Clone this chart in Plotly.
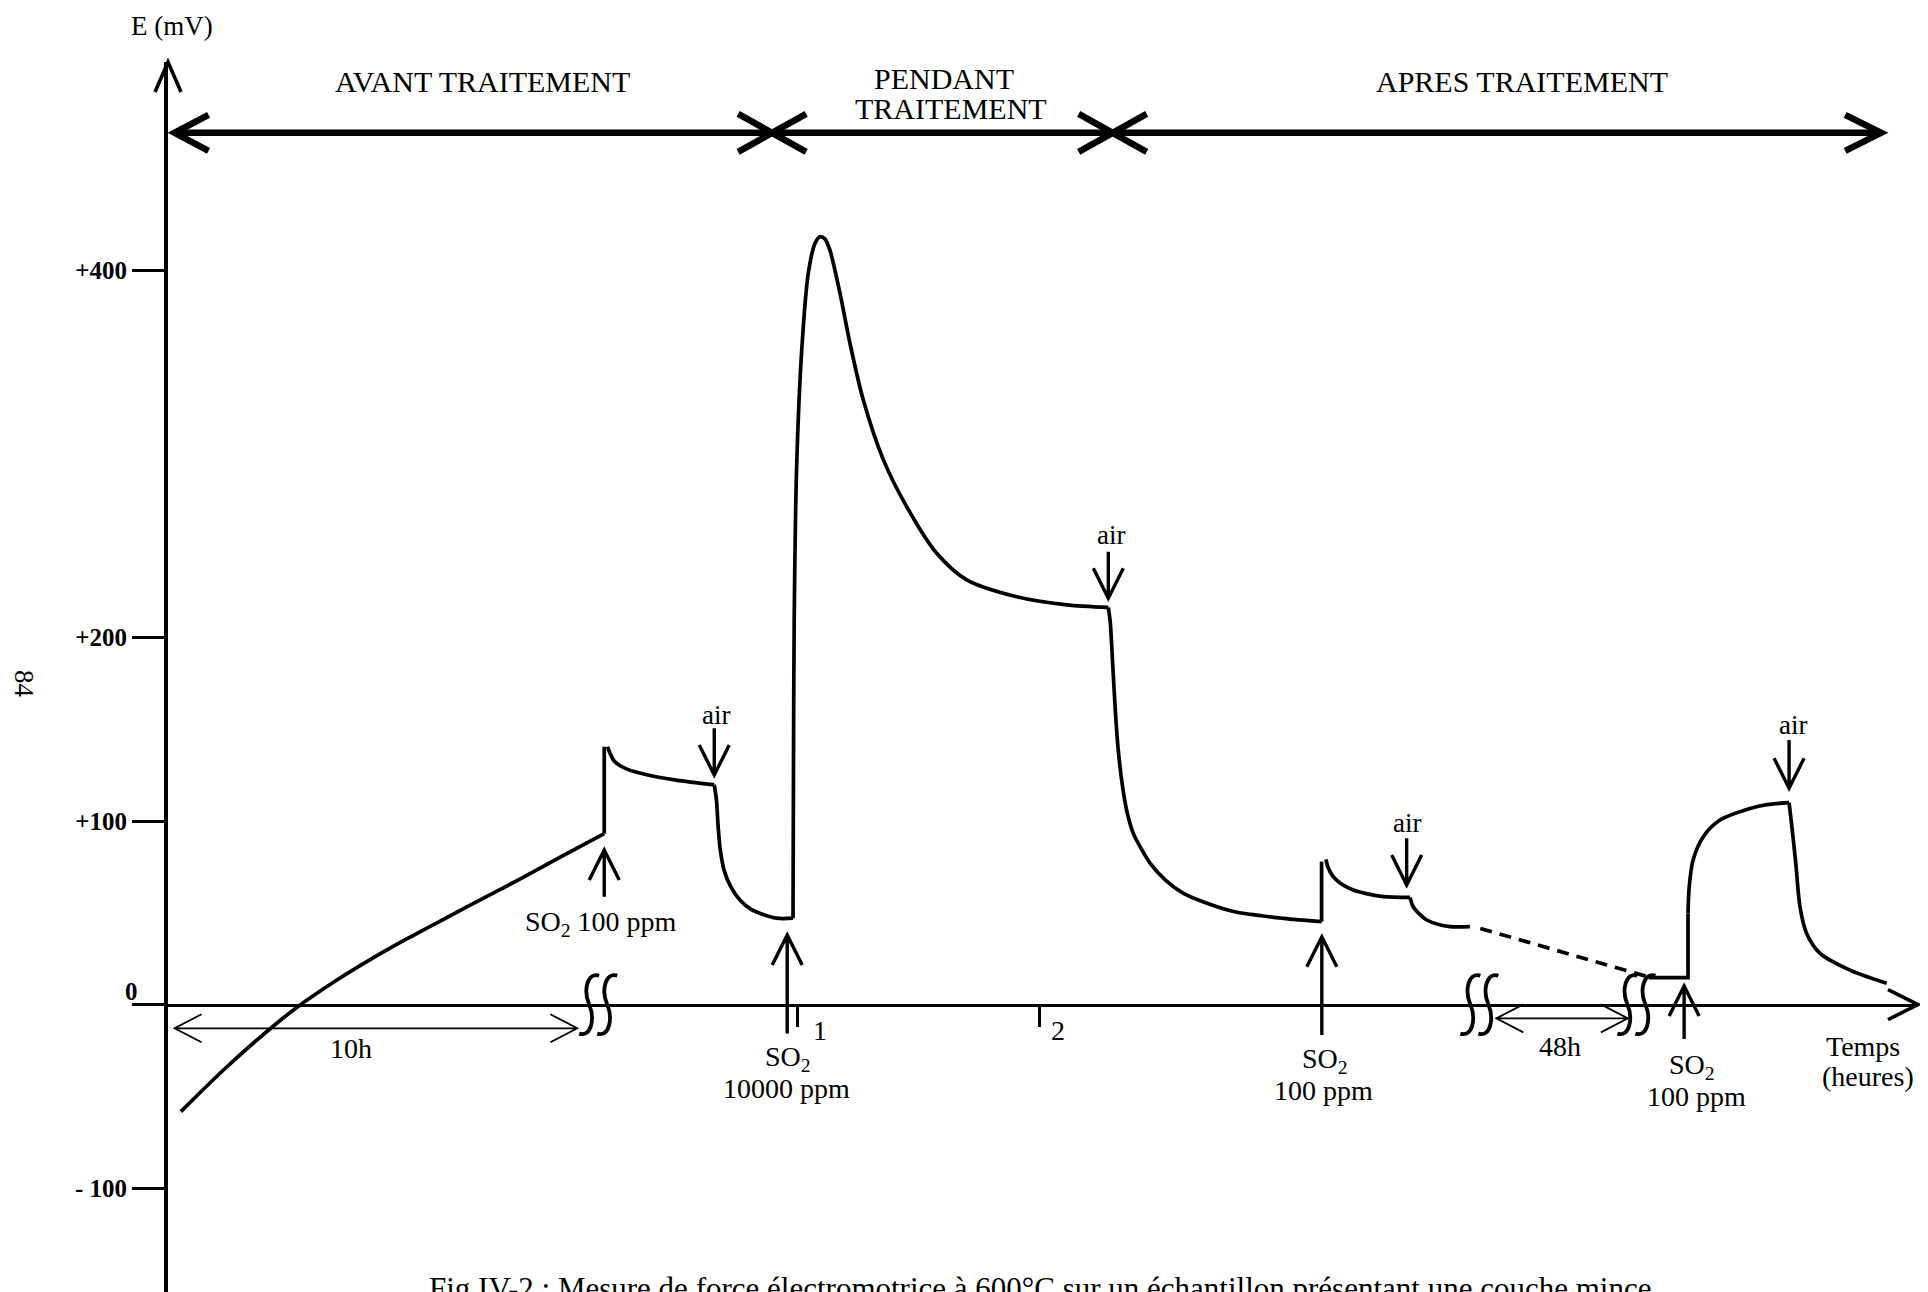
import plotly.graph_objects as go

# ---------------- data (time in hours, E in mV) ----------------
# before treatment: slow drift then SO2 100 ppm / air
ramp_t = [-1.545, -1.368, -1.185, -1.064, -0.901, -0.769, -0.617, -0.465, -0.302, -0.131, 0.032, 0.202]
ramp_mv = [-58.3, -35.5, -14.1, -1.3, 13.4, 24.1, 35.5, 46.2, 57.6, 69.4, 81.2, 93.1]
jump1_t = [0.202, 0.202]
jump1_mv = [93.1, 140.5]
so2a_t = [0.215, 0.245, 0.296, 0.382, 0.499, 0.656]
so2a_mv = [140.5, 132.4, 128.3, 125.1, 122.3, 119.7]
aira_t = [0.656, 0.665, 0.672, 0.681, 0.697, 0.724, 0.762, 0.810, 0.913, 0.981]
aira_mv = [119.7, 111.5, 97.2, 84.2, 73.0, 64.3, 57.0, 51.7, 47.1, 47.1]
# during treatment: SO2 10000 ppm
peak_t = [0.981, 0.983, 0.986, 0.996, 1.017, 1.044, 1.072, 1.092, 1.113, 1.133, 1.175,
          1.216, 1.271, 1.354, 1.450, 1.574, 1.698, 1.904, 2.110, 2.282]
peak_mv = [47.1, 132.0, 211.4, 293.1, 356.7, 398.5, 414.8, 418.4, 417.1, 411.2, 387.5,
           360.3, 329.4, 296.8, 271.3, 245.9, 231.4, 222.2, 217.8, 216.4]
airb_t = [2.282, 2.290, 2.300, 2.311, 2.323, 2.341, 2.361, 2.385, 2.417, 2.454, 2.519,
          2.592, 2.681, 2.798, 3.004, 3.162]
airb_mv = [216.4, 208.4, 185.6, 160.1, 138.7, 118.6, 103.9, 93.3, 85.1, 77.1, 67.7,
           60.6, 55.6, 50.7, 47.0, 45.2]
# after treatment
jump2_t = [3.162, 3.162]
jump2_mv = [45.2, 77.9]
so2c_t = [3.180, 3.188, 3.210, 3.244, 3.293, 3.351, 3.417, 3.527]
so2c_mv = [79.1, 75.0, 69.7, 65.7, 62.4, 60.3, 58.8, 58.4]
airc_t = [3.527, 3.540, 3.564, 3.596, 3.645, 3.692, 3.774]
airc_mv = [58.4, 53.3, 49.6, 46.1, 43.6, 42.5, 42.5]
gap_t = [3.817, 4.502]
gap_mv = [41.5, 15.4]
base_t = [4.512, 4.674, 4.674]
base_mv = [14.7, 14.7, 49.7]
rise_t = [4.674, 4.679, 4.695, 4.737, 4.806, 4.930, 5.000, 5.091]
rise_mv = [49.7, 64.3, 78.8, 91.5, 100.6, 106.9, 109.0, 110.0]
aird_t = [5.091, 5.100, 5.118, 5.136, 5.163, 5.219, 5.342, 5.494]
aird_mv = [110.0, 100.0, 78.0, 53.3, 38.9, 27.9, 18.8, 11.6]

# event arrows (gas changes)
event_t = [0.202, 0.656, 0.957, 2.282, 3.163, 3.513, 4.658, 5.091]
event_tip = [84.2, 125.1, 37.9, 221.4, 37.0, 65.2, 10.1, 117.9]
event_tail = [58.8, 150.6, -15.7, 246.8, -16.5, 90.7, -18.8, 144.2]

# ticks
ytick_vals = [-100, 0, 100, 200, 400]
ytick_text = ["- 100", "", "+100", "+200", "+400"]
zero_label = "0"
xtick_vals = [1, 2]

# phase bar
phase_t = [-1.571, 0.895, 2.300, 5.471]
phase_mv = 475.0
phase_labels = ["AVANT TRAITEMENT", "PENDANT", "TRAITEMENT", "APRES TRAITEMENT"]
phase_label_t = [-0.302, 1.604, 1.632, 3.990]
phase_label_mv = [502.9, 504.7, 488.4, 502.9]

# time-span arrows and axis breaks
span_t = [(-1.571, 0.091), (3.883, 4.426)]
span_mv = [-12.9, -7.5]
span_labels = ["10h", "48h"]
span_label_t = [-0.842, 4.147]
span_label_mv = [-23.9, -22.9]
break_t = [0.177, 3.813, 4.461]

# text labels: (text, t, mV)
labels = [
    ("air", 0.662, 157.8), ("air", 2.295, 255.9), ("air", 3.513, 98.8), ("air", 5.106, 152.4),
    ("SO<sub>2</sub> 100 ppm", 0.190, 44.4),
    ("SO<sub>2</sub>", 0.961, -29.3), ("10000 ppm", 0.955, -45.6),
    ("SO<sub>2</sub>", 3.176, -30.2), ("100 ppm", 3.168, -46.6),
    ("SO<sub>2</sub>", 4.692, -33.8), ("100 ppm", 4.709, -50.2),
    ("Temps", 5.394, -22.9), ("(heures)", 5.418, -39.3),
    ("1", 1.093, -13.9), ("2", 2.076, -13.9),
]

# ---------------- geometry (page has an 8px body margin) ----------------
W, H = 1920, 1284
ML, MR, MT, MB = 160, 10, 54, 0
PW, PH = W - ML - MR, H - MT - MB
T0, T1 = -1.598, 5.623
V0, V1 = -156.6, 513.6

SERIF = "Liberation Serif, Times New Roman, serif"
TICKFONT = dict(family=SERIF, size=25, color="black", weight="bold")


def fx(t):
    return (t - T0) / (T1 - T0)


def fy(v):
    return (v - V0) / (V1 - V0)


def P(t, v, dx=0.0, dy=0.0):
    """paper coords of data point shifted by screen pixels (dy positive = down)"""
    return fx(t) + dx / PW, fy(v) - dy / PH


def poly(*strokes):
    s = ""
    for st in strokes:
        s += "M" + " L".join(f"{x:.5f},{y:.5f}" for x, y in st) + " "
    return s


fig = go.Figure()


def add_line(t, v, shape="spline", dash="solid", width=3.7):
    ln = dict(color="black", width=width, shape=shape, dash=dash)
    if shape == "spline":
        ln["smoothing"] = 0.8
    fig.add_trace(go.Scatter(x=t, y=v, mode="lines", hoverinfo="skip", showlegend=False, line=ln))


add_line(ramp_t, ramp_mv)
add_line(jump1_t, jump1_mv, "linear")
add_line(so2a_t, so2a_mv)
add_line(aira_t, aira_mv)
add_line(peak_t, peak_mv)
add_line(airb_t, airb_mv)
add_line(jump2_t, jump2_mv, "linear")
add_line(so2c_t, so2c_mv)
add_line(airc_t, airc_mv)
add_line(gap_t, gap_mv, "linear", dash="12px,8px")
add_line(base_t, base_mv, "linear")
add_line(rise_t, rise_mv)
add_line(aird_t, aird_mv)

shapes = []


def add_path(path, width):
    shapes.append(dict(type="path", xref="paper", yref="paper", path=path,
                       line=dict(color="black", width=width), layer="above"))


# event arrows
for t, tip, tail in zip(event_t, event_tip, event_tail):
    s = 1 if tip > tail else -1  # barbs below tip for up arrows
    add_path(poly([P(t, tip, -15, 30 * s), P(t, tip), P(t, tip, 15, 30 * s)],
                  [P(t, tip), P(t, tail)]), 3.4)

# y-axis arrowhead
add_path(poly([P(T0, V1, -13, 30), P(T0, V1), P(T0, V1, 13, 30)]), 3.6)
# x-axis arrowhead
add_path(poly([P(T1, 0, -30, -15), P(T1, 0), P(T1, 0, -30, 15)]), 3.6)

# phase bar
add_path(poly([P(phase_t[0], phase_mv), P(phase_t[-1], phase_mv)]), 6.5)
add_path(poly([P(phase_t[0], phase_mv, 34, -18), P(phase_t[0], phase_mv), P(phase_t[0], phase_mv, 34, 18)]), 6.5)
add_path(poly([P(phase_t[-1], phase_mv, -36, -18), P(phase_t[-1], phase_mv), P(phase_t[-1], phase_mv, -36, 18)]), 6.5)
for tc in phase_t[1:-1]:
    add_path(poly([P(tc, phase_mv, -34, -19), P(tc, phase_mv, 34, 19)],
                  [P(tc, phase_mv, -34, 19), P(tc, phase_mv, 34, -19)]), 6.5)

# span arrows
for (ta, tb), v in zip(span_t, span_mv):
    add_path(poly([P(ta, v), P(tb, v)],
                  [P(ta, v, 27, -14), P(ta, v), P(ta, v, 27, 14)],
                  [P(tb, v, -27, -14), P(tb, v), P(tb, v, -27, 14)]), 1.8)

# axis break marks (two integral-like strokes)
for tb in break_t:
    for off in (-9, 9):
        pts = [P(tb, 0, off + 10, -29), P(tb, 0, off - 2, -33), P(tb, 0, off - 6, -14), P(tb, 0, off, 0),
               P(tb, 0, off + 6, 14), P(tb, 0, off + 2, 33), P(tb, 0, off - 10, 29)]
        d = "M{:.5f},{:.5f} C{:.5f},{:.5f} {:.5f},{:.5f} {:.5f},{:.5f} C{:.5f},{:.5f} {:.5f},{:.5f} {:.5f},{:.5f}".format(
            *[c for p in pts for c in p])
        add_path(d, 3.8)

annotations = []


def add_text(text, t, v, size=28, font=None, **kw):
    a = dict(text=text, x=fx(t), y=fy(v), xref="paper", yref="paper", showarrow=False,
             xanchor="center", yanchor="middle",
             font=font if font else dict(family=SERIF, size=size, color="black"))
    a.update(kw)
    annotations.append(a)


for txt, t, v in labels:
    add_text(txt, t, v, 27 if txt == "air" else 28)
for txt, t, v in zip(phase_labels, phase_label_t, phase_label_mv):
    add_text(txt, t, v, 30)
for txt, t, v in zip(span_labels, span_label_t, span_label_mv):
    add_text(txt, t, v, 28)
add_text("E (mV)", -1.581, 533.3, 27)
add_text("84", -2.19, 174.9, 27, textangle=90)
add_text(zero_label, -1.750, 7.4, font=TICKFONT)
add_text("Fig IV-2 : Mesure de force électromotrice à 600°C sur un échantillon présentant une couche mince",
         2.002, -144.0, 31, yanchor="top")

fig.update_layout(
    width=W, height=H,
    margin=dict(l=ML, r=MR, t=MT, b=MB, autoexpand=False),
    paper_bgcolor="white", plot_bgcolor="white",
    showlegend=False,
    shapes=shapes, annotations=annotations,
    xaxis=dict(range=[T0, T1], anchor="free", position=fy(0), showgrid=False, zeroline=False,
               showline=True, linecolor="black", linewidth=3,
               ticks="outside", ticklen=20, tickwidth=2.5, tickcolor="black",
               tickvals=xtick_vals, showticklabels=False, fixedrange=True),
    yaxis=dict(range=[V0, V1], showgrid=False, zeroline=False,
               showline=True, linecolor="black", linewidth=4,
               ticks="outside", ticklen=32, tickwidth=2.5, tickcolor="black",
               tickvals=ytick_vals, ticktext=ytick_text,
               tickfont=TICKFONT,
               fixedrange=True),
)

fig.write_html("out.html", config={"displayModeBar": False})
